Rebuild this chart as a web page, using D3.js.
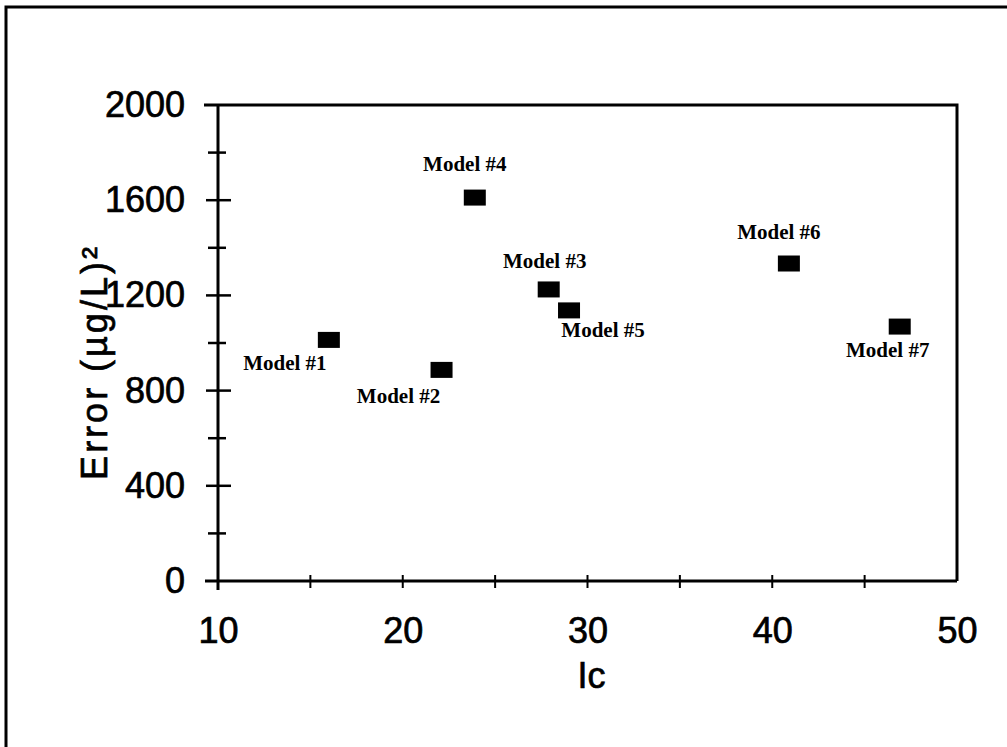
<!DOCTYPE html>
<html>
<head>
<meta charset="utf-8">
<script src="https://cdn.jsdelivr.net/npm/d3@7"></script>
<style>
  body { margin: 0; background: #fff; }
  svg { display: block; }
</style>
</head>
<body>
<div id="chart"></div>
<script>
const models = ["Model #1", "Model #2", "Model #3", "Model #4", "Model #5", "Model #6", "Model #7"];
const icValues = [16.0, 22.1, 27.9, 23.9, 29.0, 40.9, 46.9];
const errorValues = [1013, 887, 1225, 1611, 1137, 1334, 1069];
// label offsets in px from the marker centre (dx, dy to baseline)
const labelPos = [
  [-44, 30], [-43, 33], [-4, -21], [-10, -27], [34, 27], [-10, -25], [-12, 30]
];
const xTicks = [10, 20, 30, 40, 50];
const xMinor = [15, 25, 35, 45];
const yTicks = [0, 400, 800, 1200, 1600, 2000];
const yMinor = [200, 600, 1000, 1400, 1800];

const W = 1007, H = 747;
const margin = { top: 105, right: 50, bottom: 166, left: 218 };
const width = W - margin.left - margin.right;
const height = H - margin.top - margin.bottom;

const root = d3.select("#chart").append("svg")
  .attr("width", W)
  .attr("height", H);

// outer frame (only top and left edges show)
root.append("path")
  .attr("d", "M6," + H + " V7 H" + W)
  .attr("fill", "none")
  .attr("stroke", "#000")
  .attr("stroke-width", 3);

const svg = root.append("g")
  .attr("transform", "translate(" + margin.left + "," + margin.top + ")");

const x = d3.scaleLinear().domain([10, 50]).range([0, width]);
const y = d3.scaleLinear().domain([0, 2000]).range([height, 0]);

// top and right frame
svg.append("path")
  .attr("d", "M-14,0 H" + width + " V" + height)
  .attr("fill", "none")
  .attr("stroke", "#000")
  .attr("stroke-width", 3);

const xAxis = svg.append("g")
  .attr("transform", "translate(0," + height + ")")
  .call(d3.axisBottom(x).tickValues(xTicks).tickFormat(d3.format("d")).tickSize(0).tickPadding(36));
xAxis.select(".domain").attr("stroke-width", 3).attr("d", "M-13,0H" + width);
xAxis.selectAll("text")
  .attr("font-family", "Liberation Sans, Arial, sans-serif")
  .attr("font-size", 36)
  .attr("fill", "#000")
  .attr("stroke", "#000")
  .attr("stroke-width", 0.7);

svg.append("g").selectAll("line")
  .data(xTicks.concat(xMinor).filter(d => d !== 50))
  .join("line")
  .attr("x1", d => x(d)).attr("x2", d => x(d))
  .attr("y1", height - 6).attr("y2", height + 7)
  .attr("stroke", "#000").attr("stroke-width", 2);

const yAxis = svg.append("g")
  .call(d3.axisLeft(y).tickValues(yTicks).tickFormat(d3.format("d")).tickSize(0).tickPadding(33));
yAxis.select(".domain").attr("stroke-width", 3).attr("d", "M0," + (height + 9) + "V0");
yAxis.selectAll("text")
  .attr("font-family", "Liberation Sans, Arial, sans-serif")
  .attr("font-size", 36)
  .attr("fill", "#000")
  .attr("stroke", "#000")
  .attr("stroke-width", 0.7);

svg.append("g").selectAll("line")
  .data(yTicks.filter(d => d > 0 && d < 2000))
  .join("line")
  .attr("x1", -12).attr("x2", 13)
  .attr("y1", d => y(d)).attr("y2", d => y(d))
  .attr("stroke", "#000").attr("stroke-width", 2.5);

svg.append("g").selectAll("line")
  .data(yMinor)
  .join("line")
  .attr("x1", -10).attr("x2", 8)
  .attr("y1", d => y(d)).attr("y2", d => y(d))
  .attr("stroke", "#000").attr("stroke-width", 2.5);

// axis titles
svg.append("text")
  .attr("x", x(30) + 4)
  .attr("y", height + 107)
  .attr("text-anchor", "middle")
  .attr("font-family", "Liberation Sans, Arial, sans-serif")
  .attr("font-size", 36)
  .attr("stroke", "#000")
  .attr("stroke-width", 0.7)
  .text("Ic");

svg.append("text")
  .attr("transform", "translate(-111," + (y(1000) + 19) + ") rotate(-90)")
  .attr("text-anchor", "middle")
  .attr("font-family", "Liberation Sans, Arial, sans-serif")
  .attr("font-size", 36)
  .attr("letter-spacing", 3)
  .attr("stroke", "#000")
  .attr("stroke-width", 0.7)
  .text("Error (µg/L)²");

// points
const pts = models.map((m, i) => ({ name: m, ic: icValues[i], err: errorValues[i], pos: labelPos[i] }));

svg.selectAll(".pt")
  .data(pts)
  .join("rect")
  .attr("class", "pt")
  .attr("x", d => x(d.ic) - 11)
  .attr("y", d => y(d.err) - 8)
  .attr("width", 22)
  .attr("height", 16)
  .attr("fill", "#000");

svg.selectAll(".lbl")
  .data(pts)
  .join("text")
  .attr("class", "lbl")
  .attr("x", d => x(d.ic) + d.pos[0])
  .attr("y", d => y(d.err) + d.pos[1])
  .attr("text-anchor", "middle")
  .attr("font-family", "Liberation Serif, Times New Roman, serif")
  .attr("font-size", 21)
  .attr("font-weight", "bold")
  .text(d => d.name);
</script>
</body>
</html>
